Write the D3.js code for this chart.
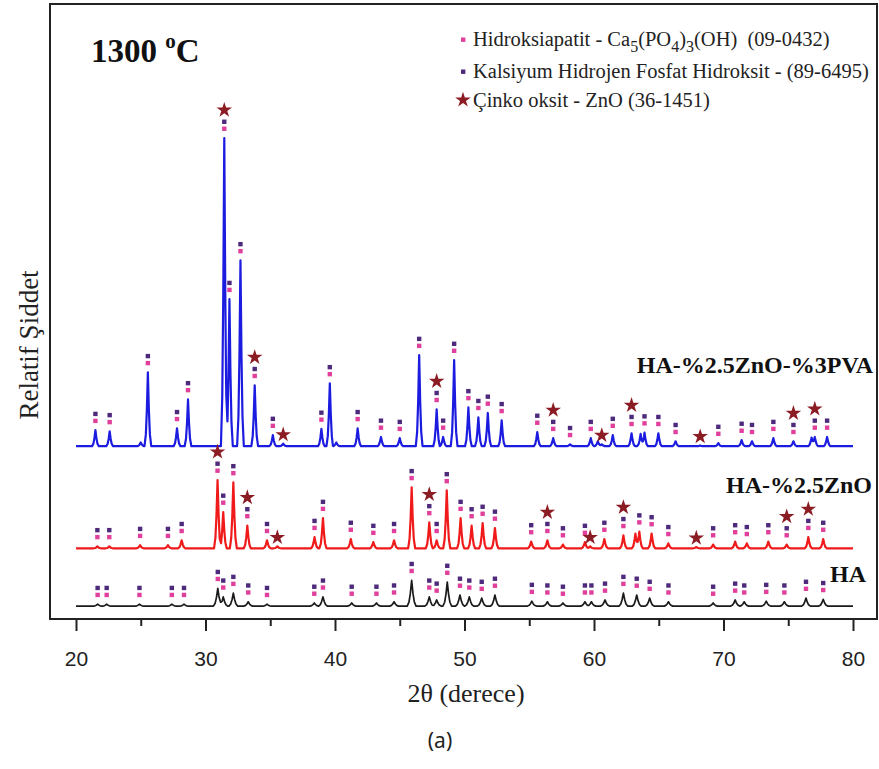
<!DOCTYPE html>
<html>
<head>
<meta charset="utf-8">
<script src="https://cdn.jsdelivr.net/npm/d3@7"></script>
<style>
  body { margin: 0; background: #fff; }
  svg { display: block; }
</style>
</head>
<body>
<div id="chart"></div>
<script>
// Peaks: [2theta, intensity (a.u.), phase marks]
// marks: "h" = Hidroksiapatit + Kalsiyum pair, "z" = ZnO star, "" = none
const bluePeaks = [
  [21.5, 26, "h"], [22.6, 24, "h"], [25.0, 6, ""], [25.55, 120, "h"], [27.8, 29, "h"],
  [28.65, 76, "h"], [31.45, 501, "hz"], [31.85, 239, "h"], [32.7, 302, "h"], [33.8, 99, "hz"],
  [35.2, 18, "h"], [36.0, 4, "z"], [38.95, 28, "h"], [39.6, 102, "h"], [40.1, 6, ""],
  [41.75, 29, "h"], [43.55, 15, "h"], [45.0, 13, "h"], [46.5, 148, "h"], [47.85, 60, "hz"],
  [48.35, 15, "h"], [49.2, 140, "h"], [50.3, 63, "h"], [51.07, 47, "h"], [51.8, 54, "h"],
  [52.87, 42, "h"], [55.62, 23, "h"], [56.85, 13, "hz"], [58.15, 3, "h"], [59.75, 13, "h"],
  [60.3, 8, ""], [60.6, 3, "z"], [61.45, 18, "h"], [62.9, 21, "hz"], [63.6, 20, ""],
  [63.9, 22, "h"], [64.97, 21, "h"], [66.3, 8, "h"], [68.2, 1, "z"], [69.6, 5, "h"],
  [71.4, 10, "h"], [72.2, 8, "h"], [73.85, 13, "h"], [75.4, 8, "hz"], [76.8, 14, ""],
  [77.05, 15, "hz"], [78.0, 15, "h"]
];
const redPeaks = [
  [21.65, 3, "h"], [22.57, 3, "h"], [24.95, 5, "h"], [27.1, 5, "h"], [28.16, 13, "h"],
  [30.93, 111, "hz"], [31.37, 59, "h"], [32.15, 107, "h"], [33.23, 37, "hz"], [34.75, 13, "h"],
  [35.55, 3, "z"], [38.42, 18, "h"], [39.07, 49, "h"], [41.22, 15, "h"], [42.96, 10, "h"],
  [44.56, 13, "h"], [45.92, 99, "h"], [47.28, 42, "hz"], [47.85, 13, "h"], [48.63, 94, "h"],
  [49.7, 49, "h"], [50.55, 37, "h"], [51.4, 41, "h"], [52.35, 33, "h"], [55.15, 11, "h"],
  [56.4, 13, "hz"], [57.6, 6, "h"], [59.3, 10, "h"], [59.7, 3, "z"], [60.8, 15, "h"],
  [62.27, 21, "hz"], [63.2, 24, ""], [63.5, 27, "h"], [64.45, 24, "h"], [65.74, 8, "h"],
  [67.9, 2, "z"], [69.2, 6, "h"], [70.9, 11, "h"], [71.8, 8, "h"], [73.46, 11, "h"],
  [74.88, 6, "hz"], [76.55, 18, "hz"], [77.7, 15, "h"]
];
const blackPeaks = [
  [21.67, 3, "h"], [22.37, 3, "h"], [24.9, 3, "h"], [27.4, 3, "h"], [28.34, 3, "h"],
  [30.95, 29, "h"], [31.37, 15, "h"], [32.15, 21, "h"], [33.3, 7, "h"], [34.75, 3, "h"],
  [38.4, 5, "h"], [39.07, 15, "h"], [41.29, 5, "h"], [43.2, 5, "h"], [44.56, 7, "h"],
  [45.92, 42, "h"], [47.28, 15, "h"], [47.85, 10, "h"], [48.67, 39, "h"], [49.65, 18, "h"],
  [50.37, 15, "h"], [51.33, 13, "h"], [52.35, 18, "h"], [55.2, 8, "h"], [56.4, 7, "h"],
  [57.6, 5, "h"], [59.3, 7, "h"], [59.8, 7, "h"], [60.85, 10, "h"], [62.27, 21, "h"],
  [63.3, 18, "h"], [64.3, 13, "h"], [65.75, 7, "h"], [69.2, 5, "h"], [70.9, 10, "h"],
  [71.6, 7, "h"], [73.3, 8, "h"], [74.7, 7, "h"], [76.37, 13, "h"], [77.7, 11, "h"]
];

const seriesNames = ["HA-%2.5ZnO-%3PVA", "HA-%2.5ZnO", "HA"];
const seriesOffsets = [281, 115, 21];
const xTicks = [20, 30, 40, 50, 60, 70, 80];
const xMinorTicks = [25, 35, 45, 55, 65, 75];
const legendLabels = [
  "Hidroksiapatit - Ca5(PO4)3(OH)  (09-0432)",
  "Kalsiyum Hidrojen Fosfat Hidroksit - (89-6495)",
  "Çinko oksit - ZnO (36-1451)"
];

// layout
const W = 879, H = 769;
const frame = { left: 50, top: 4, right: 877, bottom: 619 };
const serif = "'Liberation Serif', 'Times New Roman', serif";
const pink = "#e0409c", purple = "#4e2a7c", starColor = "#8b1c24";

const series = [
  { peaks: bluePeaks, offset: seriesOffsets[0], name: seriesNames[0], color: "#1c1ce0", lw: 2.2, w: 0.26, labelX: 873, labelY: 373 },
  { peaks: redPeaks, offset: seriesOffsets[1], name: seriesNames[1], color: "#f01a1a", lw: 2.2, w: 0.27, labelX: 872, labelY: 493 },
  { peaks: blackPeaks, offset: seriesOffsets[2], name: seriesNames[2], color: "#1a1a1a", lw: 1.7, w: 0.34, labelX: 866, labelY: 582 }
];

const svg = d3.select("#chart").append("svg")
  .attr("width", W)
  .attr("height", H);

const x = d3.scaleLinear().domain([20, 80]).range([76, 853]);
const y = d3.scaleLinear().domain([0, 1000]).range([frame.bottom, frame.top]);

// star symbol
const star = d3.symbol().type(d3.symbolStar).size(75);

// traces
series.forEach(s => {
  // sample positions around every peak
  let xs = [20, 80];
  s.peaks.forEach(p => {
    [-1, -0.6, -0.3, 0, 0.3, 0.6, 1].forEach(k => xs.push(p[0] + k * s.w));
  });
  xs = Array.from(new Set(xs.map(v => +v.toFixed(4)))).filter(v => v >= 20 && v <= 80).sort((a, b) => a - b);
  const pts = xs.map(t => {
    let v = s.offset;
    s.peaks.forEach(p => {
      const d = Math.abs(t - p[0]) / s.w;
      if (d < 1) v += p[1] * (1 - d) * (1 - d);
    });
    return [t, v];
  });

  svg.append("path")
    .datum(pts)
    .attr("fill", "none")
    .attr("stroke", s.color)
    .attr("stroke-width", s.lw)
    .attr("stroke-linejoin", "round")
    .attr("d", d3.line().x(d => x(d[0])).y(d => y(d[1])));

  // phase markers
  const g = svg.append("g");
  s.peaks.forEach(p => {
    const top = y(s.offset + p[1]);
    const px = x(p[0]);
    const hasPair = p[2].includes("h");
    if (hasPair) {
      g.append("rect").attr("x", px - 2.2).attr("y", top - 11.5).attr("width", 4.4).attr("height", 4.4).attr("fill", pink);
      g.append("rect").attr("x", px - 2.2).attr("y", top - 18.5).attr("width", 4.4).attr("height", 4.4).attr("fill", purple);
    }
    if (p[2].includes("z")) {
      const sy = hasPair ? top - 28 : top - 9;
      g.append("path").attr("d", star).attr("transform", `translate(${px},${sy})`).attr("fill", starColor);
    }
  });

  svg.append("text")
    .attr("x", s.labelX)
    .attr("y", s.labelY)
    .attr("text-anchor", "end")
    .attr("font-family", serif)
    .attr("font-weight", "bold")
    .attr("font-size", 24)
    .attr("fill", "#111")
    .text(s.name);
});

// frame
svg.append("rect")
  .attr("x", frame.left)
  .attr("y", frame.top)
  .attr("width", frame.right - frame.left)
  .attr("height", frame.bottom - frame.top)
  .attr("fill", "none")
  .attr("stroke", "#222")
  .attr("stroke-width", 2);

// x axis
const xAxis = svg.append("g")
  .attr("transform", `translate(0,${frame.bottom})`)
  .call(d3.axisBottom(x).tickValues(xTicks).tickSize(12).tickPadding(20));
xAxis.select(".domain").remove();
xAxis.selectAll(".tick line").attr("stroke", "#222").attr("stroke-width", 2);
xAxis.selectAll(".tick text")
  .attr("font-family", "'Liberation Sans', Arial, sans-serif")
  .attr("font-size", 21)
  .attr("fill", "#222");

const xMinor = svg.append("g")
  .attr("transform", `translate(0,${frame.bottom})`)
  .call(d3.axisBottom(x).tickValues(xMinorTicks).tickSize(7).tickFormat(""));
xMinor.select(".domain").remove();
xMinor.selectAll(".tick line").attr("stroke", "#222").attr("stroke-width", 2);

svg.append("text")
  .attr("x", 466)
  .attr("y", 702)
  .attr("text-anchor", "middle")
  .attr("font-family", serif)
  .attr("font-size", 26)
  .attr("fill", "#222")
  .text("2θ (derece)");

svg.append("text")
  .attr("transform", "translate(38,345) rotate(-90)")
  .attr("text-anchor", "middle")
  .attr("font-family", serif)
  .attr("font-size", 27)
  .attr("fill", "#222")
  .text("Relatif Şiddet");

svg.append("text")
  .attr("x", 440)
  .attr("y", 748)
  .attr("text-anchor", "middle")
  .attr("font-family", "'Noto Sans', 'Open Sans', sans-serif")
  .attr("font-size", 21)
  .attr("fill", "#222")
  .text("(a)");

// temperature title
const title = svg.append("text")
  .attr("x", 91)
  .attr("y", 62)
  .attr("font-family", serif)
  .attr("font-weight", "bold")
  .attr("font-size", 33)
  .attr("fill", "#111");
title.append("tspan").text("1300 ");
title.append("tspan").attr("font-size", 21).attr("dy", -14).text("o");
title.append("tspan").attr("dy", 14).text("C");

// legend
const legend = svg.append("g");
const legendY = [46, 78, 107];
const legendText = (yy) => legend.append("text")
  .attr("x", 473)
  .attr("y", yy)
  .attr("font-family", serif)
  .attr("font-size", 20.5)
  .attr("fill", "#222");

legend.append("rect").attr("x", 461).attr("y", 37.5).attr("width", 4.4).attr("height", 4.4).attr("fill", pink);
legend.append("rect").attr("x", 461).attr("y", 69.5).attr("width", 4.4).attr("height", 4.4).attr("fill", purple);
legend.append("path").attr("d", star).attr("transform", "translate(463,100)").attr("fill", starColor);

const t0 = legendText(legendY[0]);
t0.append("tspan").text("Hidroksiapatit - Ca");
t0.append("tspan").attr("font-size", 16).attr("dy", 6).text("5");
t0.append("tspan").attr("dy", -6).text("(PO");
t0.append("tspan").attr("font-size", 16).attr("dy", 6).text("4");
t0.append("tspan").attr("dy", -6).text(")");
t0.append("tspan").attr("font-size", 16).attr("dy", 6).text("3");
t0.append("tspan").attr("dy", -6).text("(OH)\u00a0\u00a0(09-0432)");

legendText(legendY[1]).text(legendLabels[1]);
legendText(legendY[2]).text(legendLabels[2]);
</script>
</body>
</html>
